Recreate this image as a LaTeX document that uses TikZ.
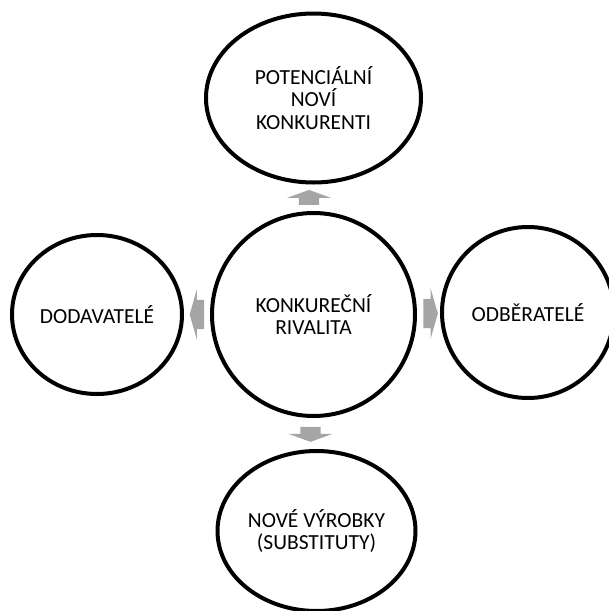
\documentclass[tikz,border=0pt]{standalone}
\usepackage{fontspec}
\setmainfont{Carlito}
\usepackage{tikz}
\usetikzlibrary{shapes, arrows, calc}
\definecolor{arrowgray}{HTML}{A5A5A5}
\tikzstyle{force} = [ellipse, draw, line width=4pt, fill=white, inner sep=0pt,
    align=center, font=\fontsize{21.5}{22.8}\selectfont]
\tikzstyle{rival} = [circle, draw, line width=4pt, fill=white, inner sep=0pt,
    align=center, font=\fontsize{21.5}{22.8}\selectfont, minimum size=203pt]
\tikzstyle{vflow} = [single arrow, fill=arrowgray, draw=none, inner xsep=0pt,
    inner ysep=10pt, minimum width=0pt, minimum height=15pt,
    single arrow head extend=12pt, single arrow tip angle=140]
\tikzstyle{hflow} = [single arrow, fill=arrowgray, draw=none, inner xsep=0pt,
    inner ysep=14.5pt, minimum width=0pt, minimum height=14.5pt,
    single arrow head extend=10.5pt, single arrow tip angle=148]

\begin{document}
\begin{tikzpicture}[x=1pt, y=-1pt]
    \useasboundingbox (0,0) rectangle (609,611);
    \clip (0,0) rectangle (609,611);
    % Nodes
    \node [rival] (rivalry) at (313.5,314.5) {KONKUREČNÍ\\RIVALITA};
    \node [force, minimum width=215pt, minimum height=169pt] (entrants) at (313.5,98)
        {POTENCIÁLNÍ\\NOVÍ\\KONKURENTI};
    \node [force, minimum width=170pt, minimum height=159pt] (suppliers) at (97,314.5)
        {DODAVATELÉ};
    \node [force, minimum width=172pt, minimum height=171pt] (buyers) at (528,312.5)
        {ODBĚRATELÉ};
    \node [force, minimum width=198pt, minimum height=160pt] (substitutes) at (316.5,531)
        {NOVÉ VÝROBKY\\(SUBSTITUTY)};

    % Edges
    \node [vflow, rotate=90] (toentrants) at ($(rivalry.north)!0.5!(entrants.south)+(-4.5,1.5)$) {};
    \node [vflow, rotate=-90] (tosubstitutes) at ($(rivalry.south)!0.5!(substitutes.north)+(-4.5,-1)$) {};
    \node [hflow, rotate=180] (tosuppliers) at ($(rivalry.west)!0.5!(suppliers.east)+(2,0)$) {};
    \node [hflow] (tobuyers) at ($(rivalry.east)!0.5!(buyers.west)$) {};

\end{tikzpicture}
\end{document}
